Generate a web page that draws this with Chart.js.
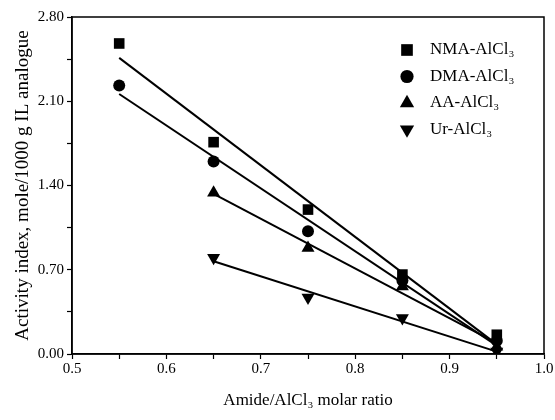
<!DOCTYPE html>
<html>
<head>
<meta charset="utf-8">
<script src="https://cdn.jsdelivr.net/npm/chart.js@4/dist/chart.umd.min.js"></script>
<style>
  html, body { margin: 0; padding: 0; background: #fff; }
  #wrap { width: 555px; height: 420px; }
</style>
</head>
<body>
<div id="wrap"><canvas id="chart" width="555" height="420"></canvas></div>
<script>
// molar ratios
const ratios = [0.55, 0.65, 0.75, 0.85, 0.95];
const ratiosShort = [0.65, 0.75, 0.85, 0.95];

// activity index values
const nma = [2.58, 1.76, 1.20, 0.66, 0.16];
const dma = [2.23, 1.60, 1.02, 0.61, 0.11];
const aa = [1.34, 0.88, 0.56, 0.06];
const ur = [0.80, 0.47, 0.30, 0.02];

// fitted lines, end points
const fitX = [0.55, 0.95];
const fitXShort = [0.65, 0.95];
const nmaFit = [2.46, 0.08];
const dmaFit = [2.16, 0.07];
const aaFit = [1.33, 0.09];
const urFit = [0.77, 0.02];

const labels = ['NMA-AlCl₃', 'DMA-AlCl₃', 'AA-AlCl₃', 'Ur-AlCl₃'];
const yTicks = [0, 0.7, 1.4, 2.1, 2.8];

const serif = "'Liberation Serif', 'Times New Roman', serif";

function pts(xs, ys) {
    return xs.map((x, i) => ({ x: x, y: ys[i] }));
}

function markerSet(label, xs, ys, style, radius, rot) {
    return {
        type: 'scatter',
        label: label,
        data: pts(xs, ys),
        pointStyle: style,
        pointRadius: radius,
        pointHoverRadius: radius,
        rotation: rot || 0,
        backgroundColor: '#000',
        borderColor: '#000',
        borderWidth: 0,
        showLine: false
    };
}

function fitSet(xs, ys) {
    return {
        type: 'line',
        data: pts(xs, ys),
        borderColor: '#000',
        borderWidth: 2,
        pointRadius: 0,
        fill: false,
        isFit: true
    };
}

// frame around plot + legend inside
const framePlugin = {
    id: 'frame',
    afterDraw(chart) {
        const ctx = chart.ctx;
        const a = chart.chartArea;
        ctx.save();
        ctx.strokeStyle = '#000';
        ctx.lineWidth = 1.5;
        ctx.strokeRect(a.left, a.top, a.right - a.left, a.bottom - a.top);

        // legend
        const items = chart.data.datasets.filter(d => !d.isFit);
        ctx.font = '17px ' + serif;
        ctx.textBaseline = 'middle';
        items.forEach((d, i) => {
            const y = 50 + i * 26.5;
            ctx.fillStyle = '#000';
            ctx.strokeStyle = '#000';
            Chart.helpers.drawPoint(ctx, {
                pointStyle: d.pointStyle,
                rotation: d.rotation,
                radius: d.pointRadius * 1.1,
                borderWidth: 0
            }, 407, y);
            ctx.fillStyle = '#000';
            ctx.fillText(d.label, 430, y);
        });
        ctx.restore();
    }
};

const ctx = document.getElementById('chart').getContext('2d');
const chart = new Chart(ctx, {
    data: {
        datasets: [
            markerSet(labels[0], ratios, nma, 'rect', 7.5),
            markerSet(labels[1], ratios, dma, 'circle', 6),
            markerSet(labels[2], ratiosShort, aa, 'triangle', 7.5),
            markerSet(labels[3], ratiosShort, ur, 'triangle', 7.5, 180),
            fitSet(fitX, nmaFit),
            fitSet(fitX, dmaFit),
            fitSet(fitXShort, aaFit),
            fitSet(fitXShort, urFit)
        ]
    },
    options: {
        responsive: false,
        animation: false,
        layout: { padding: { top: 17, right: 11, left: 0, bottom: 0 } },
        plugins: {
            legend: { display: false },
            tooltip: { enabled: false }
        },
        scales: {
            x: {
                type: 'linear',
                min: 0.5,
                max: 1.0,
                afterFit(scale) { scale.height = 66; },
                afterBuildTicks(scale) {
                    const t = [];
                    for (let i = 0; i <= 10; i++) t.push({ value: +(0.5 + i * 0.05).toFixed(2) });
                    scale.ticks = t;
                },
                ticks: {
                    color: '#000',
                    font: { family: serif, size: 15 },
                    padding: 1,
                    maxRotation: 0,
                    autoSkip: false,
                    callback: (v) => (Math.round(v * 100) % 10 === 0 ? v.toFixed(1) : '')
                },
                grid: {
                    drawOnChartArea: false,
                    color: '#000',
                    tickLength: 5,
                    tickWidth: 1.2
                },
                border: { color: '#000', width: 1.5 },
                title: {
                    display: true,
                    text: 'Amide/AlCl₃ molar ratio',
                    color: '#000',
                    font: { family: serif, size: 17 },
                    padding: { top: 3, bottom: 9 }
                }
            },
            y: {
                type: 'linear',
                min: 0,
                max: 2.8,
                afterFit(scale) { scale.width = 72; },
                afterBuildTicks(scale) {
                    const t = [];
                    for (let i = 0; i <= 8; i++) t.push({ value: +(i * 0.35).toFixed(2) });
                    scale.ticks = t;
                },
                ticks: {
                    color: '#000',
                    font: { family: serif, size: 15 },
                    padding: 3,
                    autoSkip: false,
                    callback: (v) => (yTicks.some(t => Math.abs(t - v) < 1e-6) ? v.toFixed(2) : '')
                },
                grid: {
                    drawOnChartArea: false,
                    color: '#000',
                    tickLength: 5,
                    tickWidth: 1.2
                },
                border: { color: '#000', width: 1.5 },
                title: {
                    display: true,
                    text: 'Activity index, mole/1000 g IL analogue',
                    color: '#000',
                    font: { family: serif, size: 19 },
                    padding: { bottom: 0, top: 12 }
                }
            }
        }
    },
    plugins: [framePlugin]
});
</script>
</body>
</html>
